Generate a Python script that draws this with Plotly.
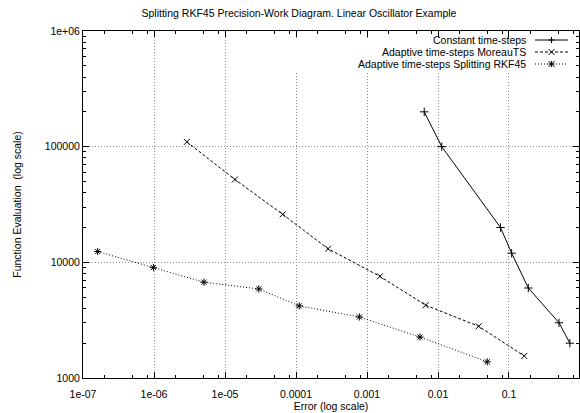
import plotly.graph_objects as go

# Data
const_err = [0.0064, 0.0113, 0.076, 0.109, 0.187, 0.506, 0.72]
const_fev = [200000, 100000, 20000, 12000, 6000, 3000, 2000]

moreau_err = [2.9e-6, 1.38e-5, 6.5e-5, 2.83e-4, 1.52e-3, 6.7e-3, 0.0374, 0.164]
moreau_fev = [110000, 52000, 26000, 13100, 7570, 4260, 2800, 1550]

split_err = [1.61e-7, 9.8e-7, 5.06e-6, 2.99e-5, 1.11e-4, 7.8e-4, 5.57e-3, 0.0494]
split_fev = [12400, 9000, 6730, 5890, 4200, 3370, 2260, 1380]

series_names = ["Constant time-steps", "Adaptive time-steps MoreauTS",
                "Adaptive time-steps Splitting RKF45"]

x_tickvals = [1e-7, 1e-6, 1e-5, 1e-4, 1e-3, 1e-2, 1e-1]
x_ticktext = ["1e-07", "1e-06", "1e-05", "0.0001", "0.001", "0.01", "0.1"]
y_tickvals = [1e3, 1e4, 1e5, 1e6]
y_ticktext = ["1000", "10000", "100000", "1e+06"]

FONT = "Liberation Sans, Arial, Helvetica, sans-serif"
W, H = 580, 413
ML, MR, MT, MB = 83, 1, 31, 35
PW, PH = W - ML - MR, H - MT - MB

dashes = ["solid", "3px,2px", "1px,2px"]
symbols = ["cross-thin", "x-thin", "asterisk-open"]

fig = go.Figure()
for xs, ys, name, dash, sym in zip([const_err, moreau_err, split_err],
                                   [const_fev, moreau_fev, split_fev],
                                   series_names, dashes, symbols):
    fig.add_trace(go.Scatter(
        x=xs, y=ys, mode="lines+markers", name=name, showlegend=False,
        line=dict(color="black", width=1, dash=dash),
        marker=dict(symbol=sym, size=6, line=dict(color="black", width=1)),
        cliponaxis=False,
    ))

minor_x = [m * 10.0 ** e for e in range(-7, 0) for m in (2, 5, 8)]
minor_y = [m * 10.0 ** e for e in range(3, 6) for m in range(2, 10)]

axis_common = dict(
    type="log", showline=True, linecolor="black", linewidth=1, mirror="ticks",
    ticks="inside", ticklen=6, tickcolor="black", tickwidth=1, automargin=False,
    showgrid=True, gridcolor="#8c8c8c", griddash="1px,2px", gridwidth=1,
    zeroline=False, tickfont=dict(family=FONT, size=10.5, color="black"),
)

fig.update_xaxes(
    **axis_common,
    range=[-7, -0.014], tickmode="array", tickvals=x_tickvals, ticktext=x_ticktext,
    ticklabelstandoff=6,
    minor=dict(tickmode="array", tickvals=minor_x, ticks="inside", ticklen=3,
               tickcolor="black", showgrid=False),
    title=dict(text="Error (log scale)", font=dict(family=FONT, size=10.5, color="black"),
               standoff=1),
)
fig.update_yaxes(
    **axis_common,
    range=[3, 6], tickmode="array", tickvals=y_tickvals, ticktext=y_ticktext,
    minor=dict(tickmode="array", tickvals=minor_y, ticks="inside", ticklen=3,
               tickcolor="black", showgrid=False),
    title=dict(text="Function Evaluation  (log scale)",
               font=dict(family=FONT, size=10.5, color="black"), standoff=21),
)

# gnuplot-style key: opaque box hiding the grid, right-aligned labels, samples on the right
def px(xp):
    return (xp - ML) / PW

def py(yp):
    return 1 - (yp - MT) / PH

shapes = [dict(type="rect", xref="paper", yref="paper", layer="above",
               x0=px(289), x1=px(574), y0=py(71), y1=py(38),
               fillcolor="white", line=dict(width=0))]
annotations = []
row_y = [40, 52, 64]
sx0, sx1, cx = 535, 568, 551.5
for name, dash, ry, k in zip(series_names, dashes, row_y, range(3)):
    annotations.append(dict(text=name, xref="paper", yref="paper", x=px(528), y=py(ry),
                            xanchor="right", yanchor="middle", showarrow=False,
                            font=dict(family=FONT, size=10.5, color="black")))
    shapes.append(dict(type="line", xref="paper", yref="paper", layer="above",
                       x0=px(sx0), x1=px(sx1), y0=py(ry), y1=py(ry),
                       line=dict(color="black", width=1, dash=dash)))
    r = 3
    if k == 0:
        segs = [(cx - r, ry, cx + r, ry), (cx, ry - r, cx, ry + r)]
    elif k == 1:
        segs = [(cx - r, ry - r, cx + r, ry + r), (cx - r, ry + r, cx + r, ry - r)]
    else:
        segs = [(cx - r, ry, cx + r, ry), (cx, ry - r, cx, ry + r),
                (cx - r, ry - r, cx + r, ry + r), (cx - r, ry + r, cx + r, ry - r)]
    for a, b, c, d in segs:
        shapes.append(dict(type="line", xref="paper", yref="paper", layer="above",
                           x0=px(a), x1=px(c), y0=py(b), y1=py(d),
                           line=dict(color="black", width=1)))

fig.update_layout(
    width=W, height=H,
    margin=dict(l=ML, r=MR, t=MT, b=MB, autoexpand=False),
    paper_bgcolor="white", plot_bgcolor="white",
    title=dict(text="Splitting RKF45 Precision-Work Diagram. Linear Oscillator Example",
               x=299 / W, xanchor="center", y=1 - 13 / H, yanchor="middle",
               font=dict(family=FONT, size=10.5, color="black"), automargin=False),
    showlegend=False,
    shapes=shapes,
    annotations=annotations,
)

fig.write_html("out.html", config={"displayModeBar": False},
               post_script="document.body.style.margin='0';document.body.style.padding='0';")
